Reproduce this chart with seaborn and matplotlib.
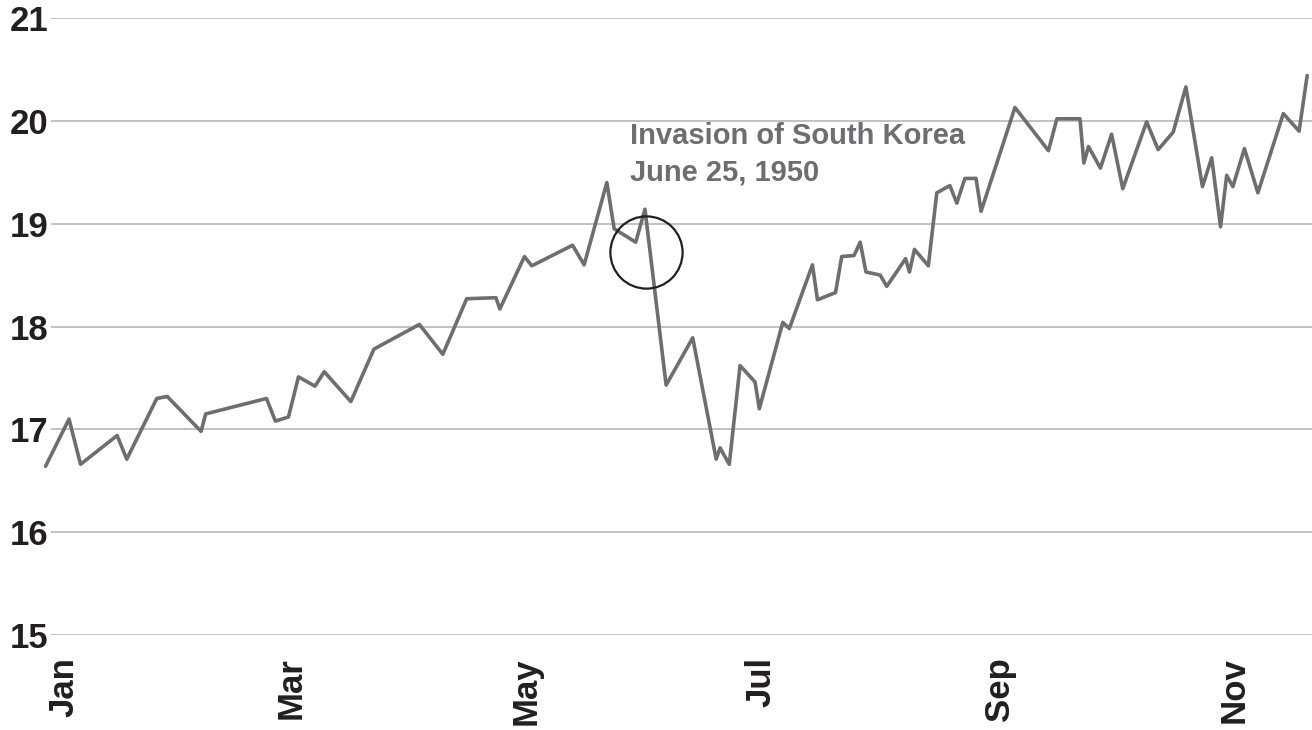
import matplotlib
matplotlib.use("Agg")
import matplotlib.pyplot as plt
from matplotlib.transforms import offset_copy
import seaborn as sns
import pandas as pd

# Day offsets from Jan 1 and index values
days = [-4.8, 1.3, 4.3, 13.8, 16.3, 24.1, 26.8, 35.6, 36.8, 52.6, 54.9, 58.3,
        60.9, 65.2, 67.6, 74.5, 80.5, 92.3, 98.4, 104.6, 112.2, 113.2, 119.6,
        121.5, 132.1, 135.1, 141.0, 142.9, 148.5, 150.9, 156.4, 163.3, 169.4,
        170.4, 172.8, 175.6, 179.5, 180.6, 186.7, 188.4, 194.4, 195.7, 200.4,
        202.0, 205.2, 206.8, 208.3, 212.0, 213.7, 218.6, 219.6, 220.9, 224.5,
        226.7, 230.1, 231.9, 234.0, 236.9, 238.2, 247.0, 255.7, 257.9, 263.9,
        264.9, 266.1, 269.2, 272.1, 275.0, 281.2, 284.2, 288.1, 291.4, 295.7,
        298.1, 300.4, 302.0, 303.6, 306.6, 310.1, 316.7, 320.8, 322.9]
values = [16.64, 17.10, 16.66, 16.94, 16.71, 17.30, 17.32, 16.98, 17.15, 17.30,
          17.08, 17.12, 17.51, 17.42, 17.56, 17.27, 17.78, 18.02, 17.73, 18.27,
          18.28, 18.17, 18.68, 18.59, 18.79, 18.60, 19.40, 18.95, 18.82, 19.14,
          17.43, 17.89, 16.71, 16.82, 16.66, 17.62, 17.46, 17.20, 18.04, 17.98,
          18.60, 18.26, 18.33, 18.68, 18.69, 18.82, 18.53, 18.50, 18.39, 18.66,
          18.53, 18.75, 18.59, 19.30, 19.37, 19.20, 19.44, 19.44, 19.12, 20.13,
          19.71, 20.02, 20.02, 19.59, 19.75, 19.54, 19.87, 19.34, 19.99, 19.72,
          19.89, 20.33, 19.36, 19.64, 18.97, 19.47, 19.36, 19.73, 19.30, 20.07,
          19.90, 20.44]

month_ticks = [0, 59, 120, 181, 243, 304]
month_labels = ["Jan", "Mar", "May", "Jul", "Sep", "Nov"]
y_ticks = [15, 16, 17, 18, 19, 20, 21]

event_index = 29  # June 23 close before the invasion
event_text = "Invasion of South Korea\nJune 25, 1950"

df = pd.DataFrame({"day": days, "value": values})

sns.set_style("white")
plt.rcParams["font.family"] = ["Liberation Sans", "DejaVu Sans"]

fig = plt.figure(figsize=(13.12, 7.30), dpi=100)
ax = fig.add_axes([51 / 1312, 95 / 730, 1 - 51 / 1312, 617 / 730])

sns.lineplot(data=df, x="day", y="value", ax=ax, color="#6d6e71",
             linewidth=2.6, zorder=3)
for ln in ax.lines:
    ln.set_clip_on(False)

ax.set_xlim((51 - 64) / 3.85, (1312 - 64) / 3.85)
ax.set_ylim(15, 21)
ax.set_yticks(y_ticks)
ax.set_yticklabels([str(t) for t in y_ticks], fontsize=25, fontweight="bold",
                   color="#231f20")
ax.set_xticks(month_ticks)
ax.set_xticklabels(month_labels, rotation=90, fontsize=25, fontweight="bold",
                   color="#231f20", va="top")
ax.tick_params(axis="both", length=0)
ax.tick_params(axis="x", pad=16)
ax.tick_params(axis="y", pad=2)
ax.grid(axis="y", color="#bdbdbd", linewidth=1.3, zorder=0)
ax.grid(axis="x", visible=False)
for s in ax.spines.values():
    s.set_visible(False)
ax.set_xlabel("")
ax.set_ylabel("")

ex, ey = days[event_index], values[event_index]
circle_tr = offset_copy(ax.transData, fig=fig, x=0.5, y=-31, units="points")
ax.plot([ex], [ey], marker="o", markersize=52, markerfacecolor="none",
        markeredgecolor="#231f20", markeredgewidth=1.6, transform=circle_tr,
        zorder=4, clip_on=False)

ax.annotate(event_text, xy=(ex, ey), xytext=(-11, 63),
            textcoords="offset points", ha="left", va="top",
            fontsize=21, fontweight="bold", color="#6d6e71", linespacing=1.38)

fig.savefig("out.png", dpi=100)
